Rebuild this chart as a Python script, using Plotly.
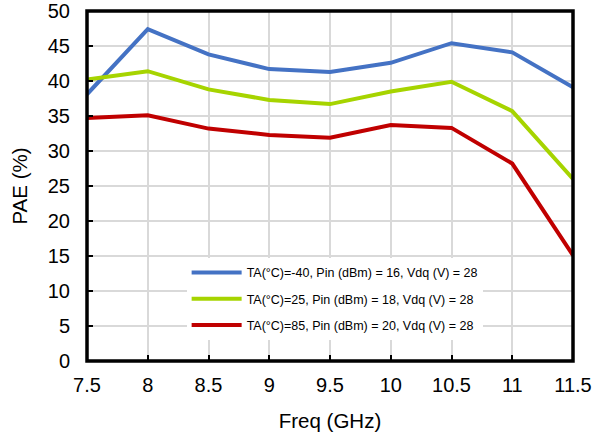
import plotly.graph_objects as go

freq = [7.5, 8, 8.5, 9, 9.5, 10, 10.5, 11, 11.5]
pae_m40 = [38.1, 47.4, 43.8, 41.7, 41.3, 42.6, 45.4, 44.1, 39.1]
pae_25 = [40.2, 41.4, 38.8, 37.3, 36.7, 38.5, 39.9, 35.7, 26.0]
pae_85 = [34.7, 35.1, 33.2, 32.3, 31.9, 33.7, 33.3, 28.2, 15.1]
names = ["TA(°C)=-40, Pin (dBm) = 16, Vdq (V) = 28",
         "TA(°C)=25, Pin (dBm) = 18, Vdq (V) = 28",
         "TA(°C)=85, Pin (dBm) = 20, Vdq (V) = 28"]
colors = ["#4472C4", "#A6D400", "#C00000"]

fig = go.Figure()
for i, (ys, nm, c) in enumerate(zip([pae_m40, pae_25, pae_85], names, colors)):
    fig.add_trace(go.Scatter(x=freq, y=ys, mode="lines", name=nm,
                             legendgroup=str(i),
                             line=dict(color=c, width=4)))

font = "Arial, Liberation Sans, sans-serif"
fig.update_layout(
    width=607, height=437,
    margin=dict(l=87, r=34, t=11, b=76, autoexpand=False),
    plot_bgcolor="white", paper_bgcolor="white",
    font=dict(family=font, color="black"),
    showlegend=True,
    legend=dict(x=0.205, y=0.295, xanchor="left", yanchor="top",
                bgcolor="white", font=dict(size=12.5, family=font),
                itemwidth=50, tracegroupgap=7, traceorder="grouped"),
    xaxis=dict(range=[7.5, 11.5], tickvals=freq,
               ticktext=["7.5", "8", "8.5", "9", "9.5", "10", "10.5", "11", "11.5"],
               showgrid=True, gridcolor="#D9D9D9", gridwidth=1.5,
               showline=False, automargin=False,
               ticks="inside", ticklen=6, tickcolor="black", tickwidth=1.5,
               tickfont=dict(size=20), ticklabelstandoff=10,
               ticklabeloverflow="allow",
               title=dict(text="Freq (GHz)", font=dict(size=20.5), standoff=18),
               zeroline=False),
    yaxis=dict(range=[0, 50], dtick=5,
               showgrid=True, gridcolor="#D9D9D9", gridwidth=1.5,
               showline=False, automargin=False,
               ticks="inside", ticklen=6, tickcolor="black", tickwidth=1.5,
               tickfont=dict(size=20), ticklabelstandoff=16,
               ticklabeloverflow="allow",
               title=dict(text="PAE (%)", font=dict(size=20.5), standoff=14),
               zeroline=False),
    shapes=[dict(type="rect", xref="paper", yref="paper", x0=0, x1=1, y0=0, y1=1,
                 line=dict(color="black", width=3.5), layer="above")],
)
fig.write_html("out.html")
